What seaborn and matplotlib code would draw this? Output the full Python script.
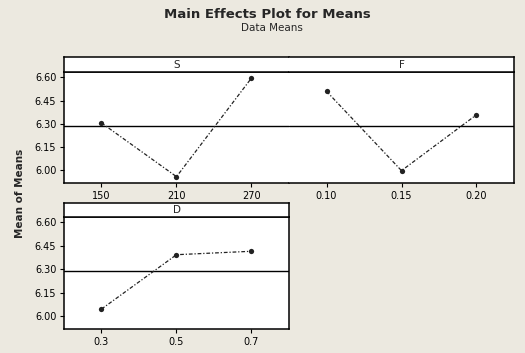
import numpy as np
import matplotlib
matplotlib.use("Agg")
import matplotlib.pyplot as plt
import seaborn as sns

# Valores (médias por nível de cada fator)
s_levels = [150, 210, 270]
s_means = [6.305, 5.957, 6.596]
f_levels = [0.10, 0.15, 0.20]
f_means = [6.510, 5.996, 6.358]
d_levels = [0.3, 0.5, 0.7]
d_means = [6.044, 6.393, 6.415]
y_ticks = [6.00, 6.15, 6.30, 6.45, 6.60]

sns.set_theme(style="white")
plt.rcParams["font.family"] = ["DejaVu Sans"]
BG = "#ECE9E0"
W, H = 525, 353

grand_mean = np.mean(s_means + f_means + d_means)


def px(x0, y0, x1, y1):
    """Converte caixa em pixels (y a partir do topo) para fração da figura."""
    return [x0 / W, 1 - y1 / H, (x1 - x0) / W, (y1 - y0) / H]


def strip(fig, box, label):
    ax = fig.add_axes(box)
    ax.set_facecolor("white")
    ax.set_xticks([]); ax.set_yticks([])
    for sp in ax.spines.values():
        sp.set_color("black"); sp.set_linewidth(1.1)
    ax.text(0.5, 0.5, label, ha="center", va="center", fontsize=7.5, transform=ax.transAxes)
    return ax


def panel(fig, box, x, y, xticks, xlabels, xlim, show_y=True):
    ax = fig.add_axes(box)
    ax.set_facecolor("white")
    ax.axhline(grand_mean, color="black", lw=1.0, zorder=1)
    sns.lineplot(x=x, y=y, ax=ax, color="#222222", lw=0.9, linestyle=(0, (3, 1.5, 1, 1.5)),
                 marker="o", markersize=3.8, markeredgewidth=0, zorder=3)
    ax.set_xlim(*xlim)
    ax.set_ylim(5.916, 6.635)
    ax.set_xticks(xticks)
    ax.set_xticklabels(xlabels)
    ax.set_yticks(y_ticks)
    ax.set_yticklabels([f"{v:.2f}" for v in y_ticks] if show_y else [])
    ax.tick_params(axis="both", direction="out", length=3, width=0.8, labelsize=7,
                   colors="black", pad=2.5, left=show_y, bottom=True)
    for sp in ax.spines.values():
        sp.set_color("black"); sp.set_linewidth(1.1)
    return ax


fig = plt.figure(figsize=(W / 100, H / 100), dpi=100, facecolor=BG)

# Painéis superiores S e F (caixa compartilhada)
ax_s = panel(fig, px(64, 72, 289, 183), s_levels, s_means, s_levels,
             ["150", "210", "270"], (120, 300))
ax_f = panel(fig, px(289, 72, 514, 183), f_levels, f_means, f_levels,
             ["0.10", "0.15", "0.20"], (0.075, 0.225), show_y=False)
ax_s.spines["right"].set_visible(False)
ax_f.spines["left"].set_visible(False)
st_s = strip(fig, px(64, 57, 289, 72), "S")
st_f = strip(fig, px(289, 57, 514, 72), "F")
st_s.spines["right"].set_visible(False)
st_f.spines["left"].set_visible(False)

# Painel inferior D
panel(fig, px(64, 217, 289, 329), d_levels, d_means, d_levels,
      ["0.3", "0.5", "0.7"], (0.2, 0.8))
strip(fig, px(64, 203, 289, 217), "D")

fig.text(267 / W, 1 - 15 / H, "Main Effects Plot for Means", ha="center", va="center",
         fontsize=9.5, fontweight="bold")
fig.text(272 / W, 1 - 28 / H, "Data Means", ha="center", va="center", fontsize=7.5)
fig.text(20 / W, 1 - 193 / H, "Mean of Means", ha="center", va="center", rotation=90,
         fontsize=7.5, fontweight="bold")

fig.savefig("out.png", dpi=100, facecolor=BG)
plt.close(fig)
